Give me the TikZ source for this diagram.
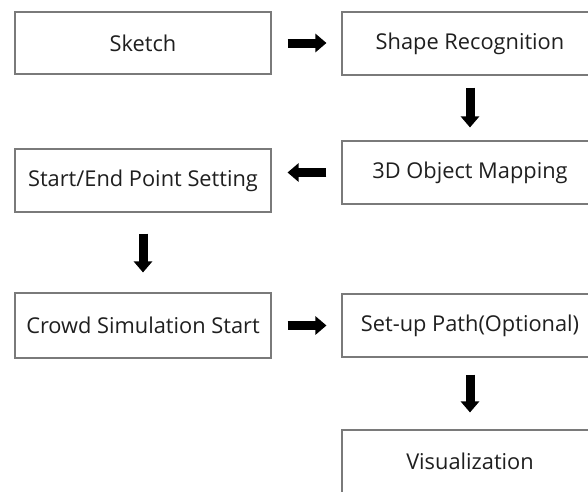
\documentclass[tikz,border=0pt]{standalone}
\usepackage{fontspec}
\setmainfont{Open Sans}
\usetikzlibrary{arrows.meta,calc}
\begin{document}
\begin{tikzpicture}[x=1pt,y=-1pt,
  stepbox/.style={draw=black!52, line width=1.1pt, minimum width=256pt, inner sep=0pt,
    text=black!88, font=\fontsize{21.8}{24}\selectfont},
  blk/.style={line width=9pt, -{Triangle[width=18pt,length=11pt]}}]
\useasboundingbox (0,0) rectangle (588,491);
\clip (0,0) rectangle (588,491);
\fill[white] (0,0) rectangle (588,491);
% left column
\node[stepbox, minimum height=62pt] (sketch) at (143,43) {Sketch};
\node[stepbox, minimum height=63pt] (startend) at (143,180.5) {Start/End Point Setting};
\node[stepbox, minimum height=65pt] (crowd) at (143,325.5) {Crowd Simulation Start};
% right column (runs past the right edge)
\node[stepbox, minimum height=63pt] (shape) at (470,43.5) {Shape Recognition};
\node[stepbox, minimum height=63pt] (map3d) at (470,172.5) {3D Object Mapping};
\node[stepbox, minimum height=63pt] (setup) at (470,325.5) {Set-up Path(Optional)};
\node[stepbox, minimum height=63pt] (vis) at (470,461.5) {Visualization};
% block arrows between the steps
\draw[blk, shorten <=16pt, shorten >=15pt] (sketch.east) -- (sketch.east -| shape.west);
\draw[blk, shorten <=12pt, shorten >=13pt] (shape.south) -- (map3d.north);
\draw[blk, shorten <=15pt, shorten >=16pt] (map3d.west) -- (map3d.west -| startend.east);
\draw[blk, shorten <=21pt, shorten >=20pt] (startend.south) -- (crowd.north);
\draw[blk, shorten <=16pt, shorten >=15pt] (crowd.east) -- (crowd.east -| setup.west);
\draw[blk, shorten <=17pt, shorten >=17pt] (setup.south) -- (vis.north);
\end{tikzpicture}
\end{document}
